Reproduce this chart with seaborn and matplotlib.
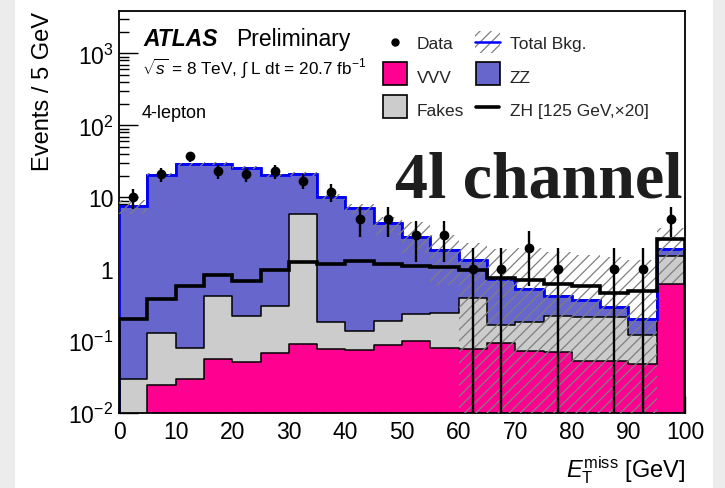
import numpy as np
import pandas as pd
import matplotlib
matplotlib.use("Agg")
import matplotlib.pyplot as plt
import seaborn as sns
from matplotlib.patches import Rectangle
from matplotlib.lines import Line2D
from matplotlib.ticker import FixedLocator, FixedFormatter, MultipleLocator, LogLocator, NullFormatter

# ---------------- data ----------------
bin_edges = list(range(0, 105, 5))          # E_T^miss bins, 5 GeV wide
vvv   = [0.0, 0.0245, 0.030, 0.056, 0.051, 0.068, 0.091, 0.077, 0.076, 0.089,
         0.100, 0.079, 0.077, 0.094, 0.072, 0.070, 0.053, 0.053, 0.048, 0.62]
fakes = [0.030, 0.105, 0.049, 0.364, 0.169, 0.242, 5.71, 0.108, 0.063, 0.101,
         0.140, 0.166, 0.323, 0.076, 0.115, 0.155, 0.160, 0.165, 0.073, 0.91]
zz    = [7.57, 20.3, 28.6, 29.0, 25.7, 19.9, 15.5, 10.0, 6.86, 4.16,
         2.56, 1.60, 0.93, 0.56, 0.35, 0.195, 0.162, 0.082, 0.079, 0.37]
zh_x20 = [0.20, 0.38, 0.59, 0.83, 0.69, 0.98, 1.24, 1.20, 1.30, 1.17,
          1.10, 1.09, 0.99, 0.75, 0.70, 0.63, 0.575, 0.47, 0.50, 2.67]
bkg_band_low  = [5.9, 19.5, 27.3, 28.0, 24.6, 19.2, 19.8, 9.3, 5.8, 3.0,
                 1.7, 0.6, 0.001, 0.001, 0.001, 0.001, 0.001, 0.001, 0.001, 0.65]
bkg_band_high = [9.3, 21.5, 30.1, 30.9, 27.2, 21.2, 22.6, 11.1, 8.0, 5.4,
                 4.5, 3.0, 2.3, 1.9, 1.95, 1.75, 1.6, 1.5, 1.35, 3.7]
data_counts = [10, 21, 37, 23, 21, 23, 17, 12, 5, 5,
               3, 3, 1, 1, 2, 1, 0, 1, 1, 5]

xtick_values = [0, 10, 20, 30, 40, 50, 60, 70, 80, 90, 100]
ytick_values = [0.01, 0.1, 1, 10, 100, 1000]
ytick_labels = ["$10^{-2}$", "$10^{-1}$", "1", "10", "$10^{2}$", "$10^{3}$"]

# ---------------- style ----------------
sns.set_theme(style="ticks")
plt.rcParams["font.family"] = ["Liberation Sans", "DejaVu Sans"]
plt.rcParams["mathtext.fontset"] = "custom"
plt.rcParams["mathtext.rm"] = "Liberation Sans"
plt.rcParams["mathtext.it"] = "Liberation Sans:italic"
plt.rcParams["mathtext.bf"] = "Liberation Sans:bold"
plt.rcParams["hatch.linewidth"] = 0.9

C_VVV = "#ff0090"
C_ZZ = "#6666cc"
C_FAKE = "#cccccc"
C_HATCH = "#7f7f7f"

W, H = 725, 489
fig = plt.figure(figsize=(W / 100, H / 100), dpi=100)
fig.patch.set_facecolor("#ececec")
fig.add_artist(Rectangle((15 / W, 0), (713 - 15) / W, 1, transform=fig.transFigure,
                         facecolor="white", edgecolor="none", zorder=-10))

def fx(x):
    return x / W

def fy(y):
    return 1 - y / H

ax = fig.add_axes([fx(119), fy(414), (685 - 119) / W, (414 - 12) / H])
ax.set_facecolor("white")
ax.set_yscale("log")

edges = np.array(bin_edges, dtype=float)
centers = 0.5 * (edges[:-1] + edges[1:])
vvv_a, fk_a, zz_a = np.array(vvv), np.array(fakes), np.array(zz)
stack_vvv = vvv_a
stack_fk = vvv_a + fk_a
stack_tot = vvv_a + fk_a + zz_a

df = pd.DataFrame({"x": centers, "tot": stack_tot, "fk": stack_fk, "vvv": stack_vvv})

for col, colour in [("tot", C_ZZ), ("fk", C_FAKE), ("vvv", C_VVV)]:
    sns.histplot(data=df, x="x", weights=col, bins=bin_edges, element="step",
                 fill=True, color=colour, alpha=1, edgecolor="black",
                 linewidth=1.1, ax=ax, zorder=2)

ax.stairs(stack_tot, edges, color="#0000ff", linewidth=2.0, zorder=3)
ax.stairs(bkg_band_high, edges, baseline=bkg_band_low, fill=True, hatch="///",
          facecolor="none", edgecolor=C_HATCH, linewidth=0, zorder=4)
ax.stairs(zh_x20, edges, color="black", linewidth=2.6, zorder=5)

d = np.array(data_counts, dtype=float)
m = d > 0
ax.errorbar(centers[m], d[m], yerr=np.sqrt(d[m]), fmt="o", color="black",
            ms=6, elinewidth=1.7, capsize=0, zorder=6)

ax.set_xlim(0, 100)
ax.set_ylim(0.01, 3900)
ax.xaxis.set_major_locator(FixedLocator(xtick_values))
ax.xaxis.set_minor_locator(MultipleLocator(2))
ax.yaxis.set_major_locator(FixedLocator(ytick_values))
ax.yaxis.set_major_formatter(FixedFormatter(ytick_labels))
ax.yaxis.set_minor_locator(LogLocator(base=10, subs=np.arange(2, 10)))
ax.yaxis.set_minor_formatter(NullFormatter())
ax.tick_params(axis="both", which="both", direction="in", top=False, right=False,
               color="black", width=1.0, labelsize=16.5, labelcolor="black")
ax.tick_params(axis="x", which="major", length=12, pad=5)
ax.tick_params(axis="x", which="minor", length=6)
ax.tick_params(axis="y", which="major", length=14, pad=4)
ax.tick_params(axis="y", which="minor", length=7)
for s in ax.spines.values():
    s.set_color("black")
    s.set_linewidth(1.3)
ax.grid(False)

ax.set_xlabel(r"$E_{\mathrm{T}}^{\mathrm{miss}}$ [GeV]", fontsize=17, loc="right", color="black")
ax.xaxis.set_label_coords(1.0, -0.10)
ax.set_ylabel("Events / 5 GeV", fontsize=17, loc="top", color="black")
ax.yaxis.set_label_coords(-0.115, 1.0)

# ---------------- annotations ----------------
fig.text(fx(143), fy(46), "ATLAS", fontsize=16.5, fontweight="bold", style="italic",
         va="baseline", color="black")
fig.text(fx(236), fy(46), "Preliminary", fontsize=16.5, va="baseline", color="black")
fig.text(fx(142), fy(75), r"$\sqrt{s}$ = 8 TeV, $\int$ L dt = 20.7 fb$^{-1}$",
         fontsize=12.3, va="baseline", color="black")
fig.text(fx(142), fy(118), "4-lepton", fontsize=13, va="baseline", color="black")
fig.text(fx(395), fy(197), "4l channel", fontsize=47.5, fontweight="bold",
         family=["Liberation Serif", "DejaVu Serif"], va="baseline", color="#1e1e1e")

# legend (ROOT style)
fs_leg = 12.5
fig.add_artist(Line2D([fx(395)], [fy(43)], marker="o", ms=5, color="black",
                      transform=fig.transFigure))
fig.text(fx(417), fy(49), "Data", fontsize=fs_leg, va="baseline")
fig.add_artist(Rectangle((fx(475), fy(54)), 25 / W, 22 / H, transform=fig.transFigure,
                         hatch="///", facecolor="none", edgecolor=C_HATCH, linewidth=0))
fig.add_artist(Line2D([fx(475), fx(500)], [fy(43), fy(43)], color="#0000ff",
                      linewidth=1.8, transform=fig.transFigure))
fig.text(fx(510), fy(49), "Total Bkg.", fontsize=fs_leg, va="baseline")

for (x0, ytop, colour, label, xt) in [(383, 63, C_VVV, "VVV", 417),
                                       (476, 63, C_ZZ, "ZZ", 510),
                                       (383, 96, C_FAKE, "Fakes", 417)]:
    fig.add_artist(Rectangle((fx(x0), fy(ytop + 23)), 24 / W, 23 / H,
                             transform=fig.transFigure, facecolor=colour,
                             edgecolor="black", linewidth=1.2))
    fig.text(fx(xt), fy(ytop + 20), label, fontsize=fs_leg, va="baseline")

fig.add_artist(Line2D([fx(476), fx(499)], [fy(108), fy(108)], color="black",
                      linewidth=2.6, transform=fig.transFigure))
fig.text(fx(510), fy(116), "ZH [125 GeV,×20]", fontsize=fs_leg, va="baseline")

fig.savefig("out.png", dpi=100, facecolor=fig.get_facecolor())
